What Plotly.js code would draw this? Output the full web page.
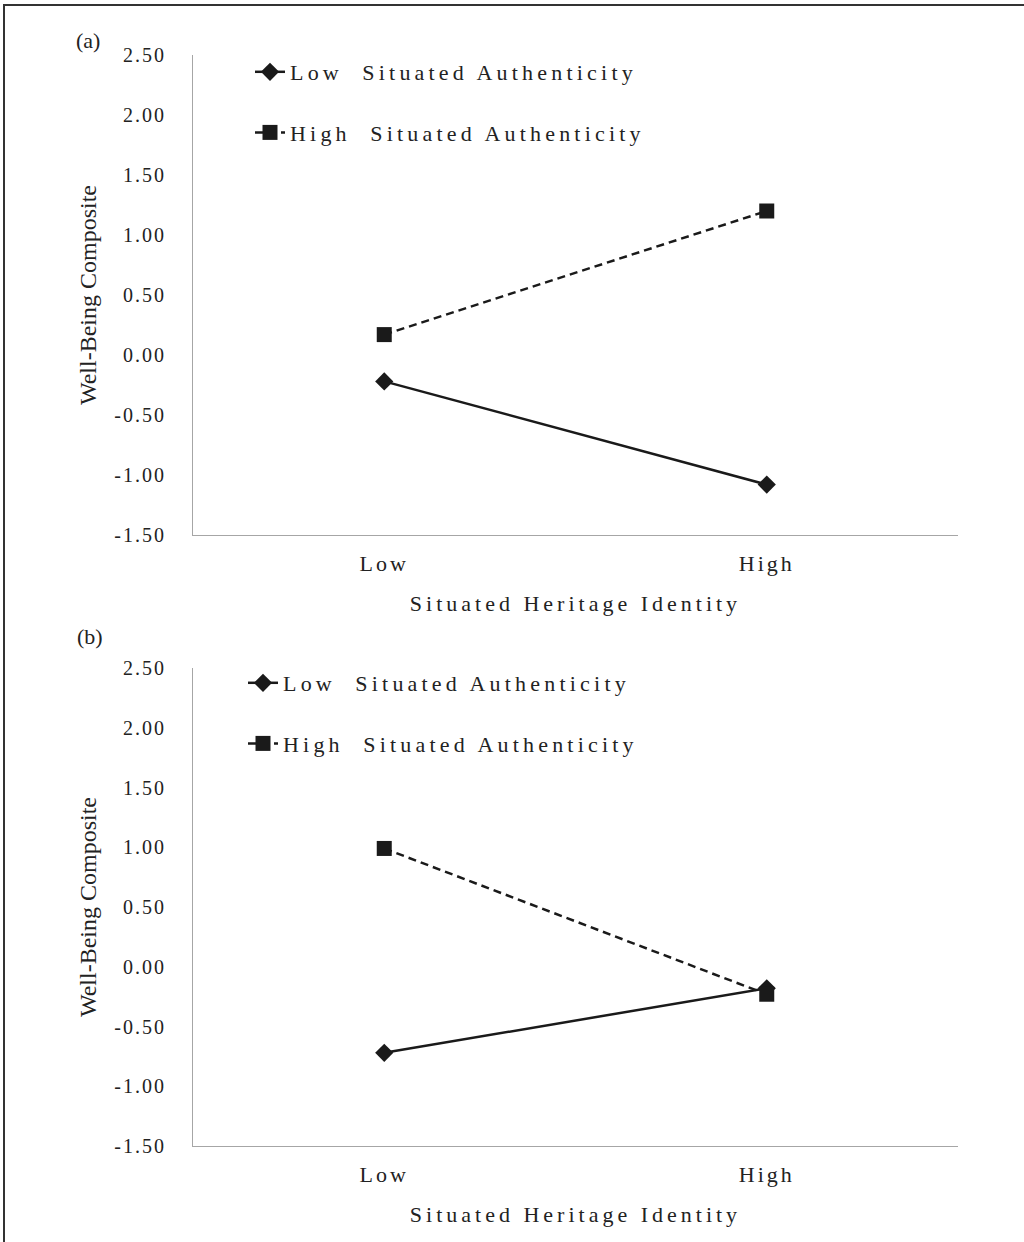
<!DOCTYPE html>
<html>
<head>
<meta charset="utf-8">
<script src="https://cdn.plot.ly/plotly-3.0.1.min.js"></script>
<style>
  html, body { margin: 0; padding: 0; background: #fff; }
  #chart { width: 1024px; height: 1242px; }
  .main-svg text { letter-spacing: 3px; }
  .main-svg .ytick text, .main-svg .y2tick text { letter-spacing: 2px; }
  .main-svg .ytitle, .main-svg .y2title { letter-spacing: 0px; }
  .main-svg .xtitle, .main-svg .x2title { letter-spacing: 4px; }
  .main-svg .legend text, .main-svg .legend2 text, .main-svg .legendtext { letter-spacing: 4.2px !important; }
  .main-svg .annotation-text { letter-spacing: 0px; }
  .main-svg .legend .scrollbox, .main-svg .legend2 .scrollbox,
  .main-svg .legend g, .main-svg .legend2 g { clip-path: none !important; }
</style>
</head>
<body>
<div id="chart"></div>
<script>
// ---- data ----
const categories = ["Low", "High"];
const seriesNames = ["Low  Situated Authenticity", "High  Situated Authenticity"];
// Panel (a)
const aLowSA  = [-0.22, -1.08];
const aHighSA = [0.17, 1.20];
// Panel (b)
const bLowSA  = [-0.72, -0.18];
const bHighSA = [0.99, -0.23];
const yTickVals = [-1.5, -1.0, -0.5, 0.0, 0.5, 1.0, 1.5, 2.0, 2.5];
const yTickText = ["-1.50", "-1.00", "-0.50", "0.00", "0.50", "1.00", "1.50", "2.00", "2.50"];

const W = 1024, H = 1242;
const FONT = "Liberation Serif, Times New Roman, serif";
const px = v => v / W;
const py = v => 1 - v / H;

const solid = { color: "#1a1a1a", width: 2.5 };
const dashed = { color: "#1a1a1a", width: 2.5, dash: "8px,5px" };
const diamond = { symbol: "diamond", size: 14, color: "#1a1a1a" };
const square = { symbol: "square", size: 15, color: "#1a1a1a" };

const traces = [
  { x: categories, y: aLowSA, name: seriesNames[0], type: "scatter", mode: "lines+markers",
    line: solid, marker: diamond, xaxis: "x", yaxis: "y", legend: "legend", legendgroup: "a1" },
  { x: categories, y: aHighSA, name: seriesNames[1], type: "scatter", mode: "lines+markers",
    line: dashed, marker: square, xaxis: "x", yaxis: "y", legend: "legend", legendgroup: "a2" },
  { x: categories, y: bLowSA, name: seriesNames[0], type: "scatter", mode: "lines+markers",
    line: solid, marker: diamond, xaxis: "x2", yaxis: "y2", legend: "legend2", legendgroup: "b1" },
  { x: categories, y: bHighSA, name: seriesNames[1], type: "scatter", mode: "lines+markers",
    line: dashed, marker: square, xaxis: "x2", yaxis: "y2", legend: "legend2", legendgroup: "b2" }
];

function xAxis(anchor, dom) {
  return {
    domain: dom, anchor: anchor, type: "category", range: [-0.5, 1.5],
    showline: true, linecolor: "#a6a6a6", linewidth: 1.2, mirror: false,
    showgrid: false, zeroline: false, ticks: "", ticklabelstandoff: 8,
    tickfont: { family: FONT, size: 22, color: "#222" },
    title: { text: "Situated Heritage Identity", standoff: 21,
             font: { family: FONT, size: 22, color: "#222" } },
    fixedrange: true
  };
}
function yAxis(anchor, dom) {
  return {
    domain: dom, anchor: anchor, range: [-1.5, 2.5],
    tickvals: yTickVals, ticktext: yTickText,
    showline: true, linecolor: "#a6a6a6", linewidth: 1.2,
    showgrid: false, zeroline: false, ticks: "", ticklabelstandoff: 22,
    tickfont: { family: FONT, size: 20, color: "#222" },
    title: { text: "Well-Being Composite", standoff: 20,
             font: { family: FONT, size: 24, color: "#222" } },
    fixedrange: true
  };
}

const legendBase = {
  xanchor: "left", yanchor: "top", bgcolor: "rgba(0,0,0,0)",
  font: { family: FONT, size: 22, color: "#222" }, tracegroupgap: 29,
  itemclick: false, itemdoubleclick: false
};

const layout = {
  width: W, height: H,
  margin: { l: 0, r: 0, t: 0, b: 0 },
  paper_bgcolor: "#fff", plot_bgcolor: "#fff",
  showlegend: true,
  xaxis: xAxis("y", [px(193), px(958)]),
  yaxis: yAxis("x", [py(535), py(55)]),
  xaxis2: xAxis("y2", [px(193), px(958)]),
  yaxis2: yAxis("x2", [py(1146), py(668)]),
  legend: Object.assign({}, legendBase, { x: px(250), y: py(51) }),
  legend2: Object.assign({}, legendBase, { x: px(243), y: py(662) }),
  annotations: [
    { text: "(a)", xref: "paper", yref: "paper", x: px(88), y: py(40), xanchor: "center", yanchor: "middle",
      showarrow: false, font: { family: FONT, size: 22, color: "#222" } },
    { text: "(b)", xref: "paper", yref: "paper", x: px(90), y: py(637), xanchor: "center", yanchor: "middle",
      showarrow: false, font: { family: FONT, size: 22, color: "#222" } }
  ],
  shapes: [
    { type: "rect", xref: "paper", yref: "paper", x0: px(4), x1: 1.05, y0: -0.05, y1: py(5),
      line: { color: "#333", width: 2 }, fillcolor: "rgba(0,0,0,0)" }
  ]
};

Plotly.newPlot("chart", traces, layout, { displayModeBar: false });
</script>
</body>
</html>
